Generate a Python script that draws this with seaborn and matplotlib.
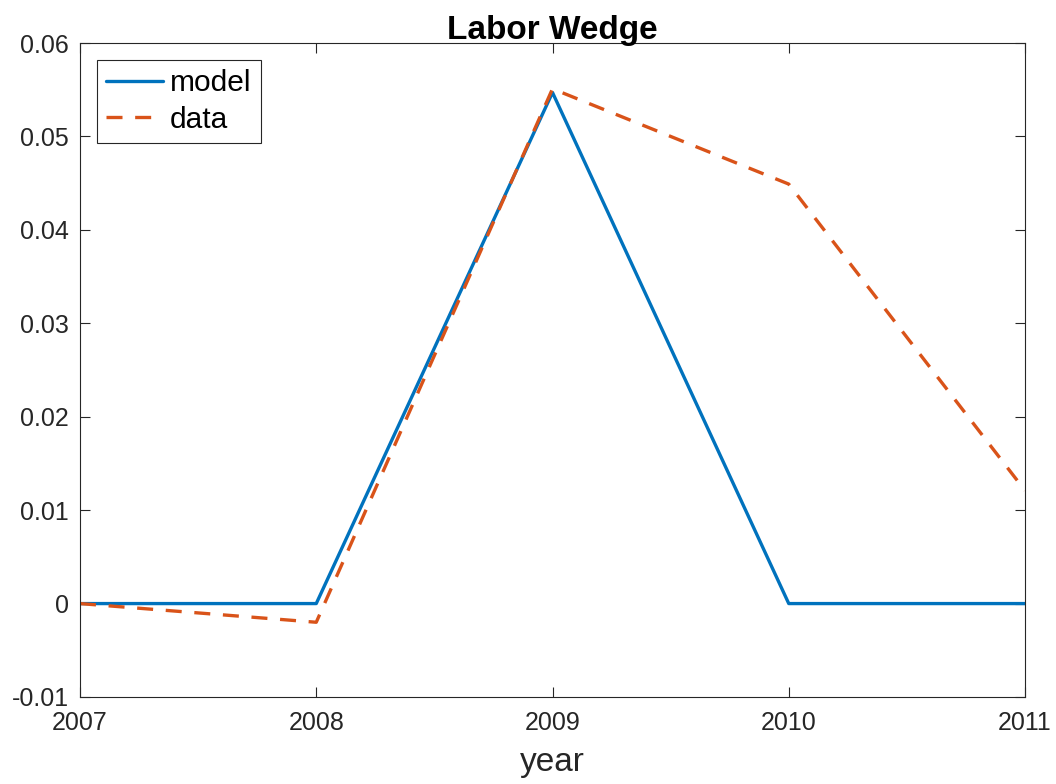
import matplotlib
matplotlib.use("Agg")
import matplotlib.pyplot as plt
import seaborn as sns
import pandas as pd

years = [2007, 2008, 2009, 2010, 2011]
model = [0.0, 0.0, 0.0547, 0.0, 0.0]
data = [0.0, -0.0020, 0.0551, 0.0449, 0.0121]
yticks = [-0.01, 0.0, 0.01, 0.02, 0.03, 0.04, 0.05, 0.06]
ytick_labels = ["-0.01", "0", "0.01", "0.02", "0.03", "0.04", "0.05", "0.06"]

sns.set_style("ticks")
plt.rcParams['font.family'] = ['Liberation Sans', 'DejaVu Sans']

df = pd.DataFrame({"year": years * 2,
                   "value": model + data,
                   "series": ["model"] * 5 + ["data"] * 5})

fig = plt.figure(figsize=(10.56, 7.84), dpi=100)
ax = fig.add_axes([80/1056, 1-697/784, (1025-80)/1056, (697-43)/784])

sns.lineplot(data=df, x="year", y="value", hue="series", style="series",
             palette={"model": "#0072BD", "data": "#D95319"},
             dashes={"model": "", "data": (4.8, 3.8)},
             linewidth=2.4, ax=ax, legend=False, sort=False)

ax.set_xlim(2007, 2011)
ax.set_ylim(-0.01, 0.06)
ax.set_xticks(years)
ax.set_xticklabels([str(y) for y in years])
ax.set_yticks(yticks)
ax.set_yticklabels(ytick_labels)
ax.tick_params(direction="in", top=True, right=True, labelsize=18,
               colors="#262626", length=7, width=0.8, pad=8)
ax.tick_params(axis="x", pad=10)
for s in ax.spines.values():
    s.set_color("#262626")
    s.set_linewidth(0.8)
    s.set_visible(True)

ax.set_xlabel("year", fontsize=24, color="#262626", labelpad=9)
ax.set_ylabel("")
ax.set_title("Labor Wedge", fontsize=24, fontweight="bold", pad=3, color="black")

lines = ax.get_lines()
leg = ax.legend(lines[:2], ["model", "data"], loc="upper left",
                bbox_to_anchor=(17/945, (697-60)/654), borderaxespad=0,
                fontsize=21.5, frameon=True, fancybox=False,
                edgecolor="#262626", facecolor="white", framealpha=1,
                handlelength=1.9, borderpad=0.3, labelspacing=0.3,
                handletextpad=0.25, labelcolor="black")
leg.get_frame().set_linewidth(0.8)

fig.savefig("out.png", dpi=100)
